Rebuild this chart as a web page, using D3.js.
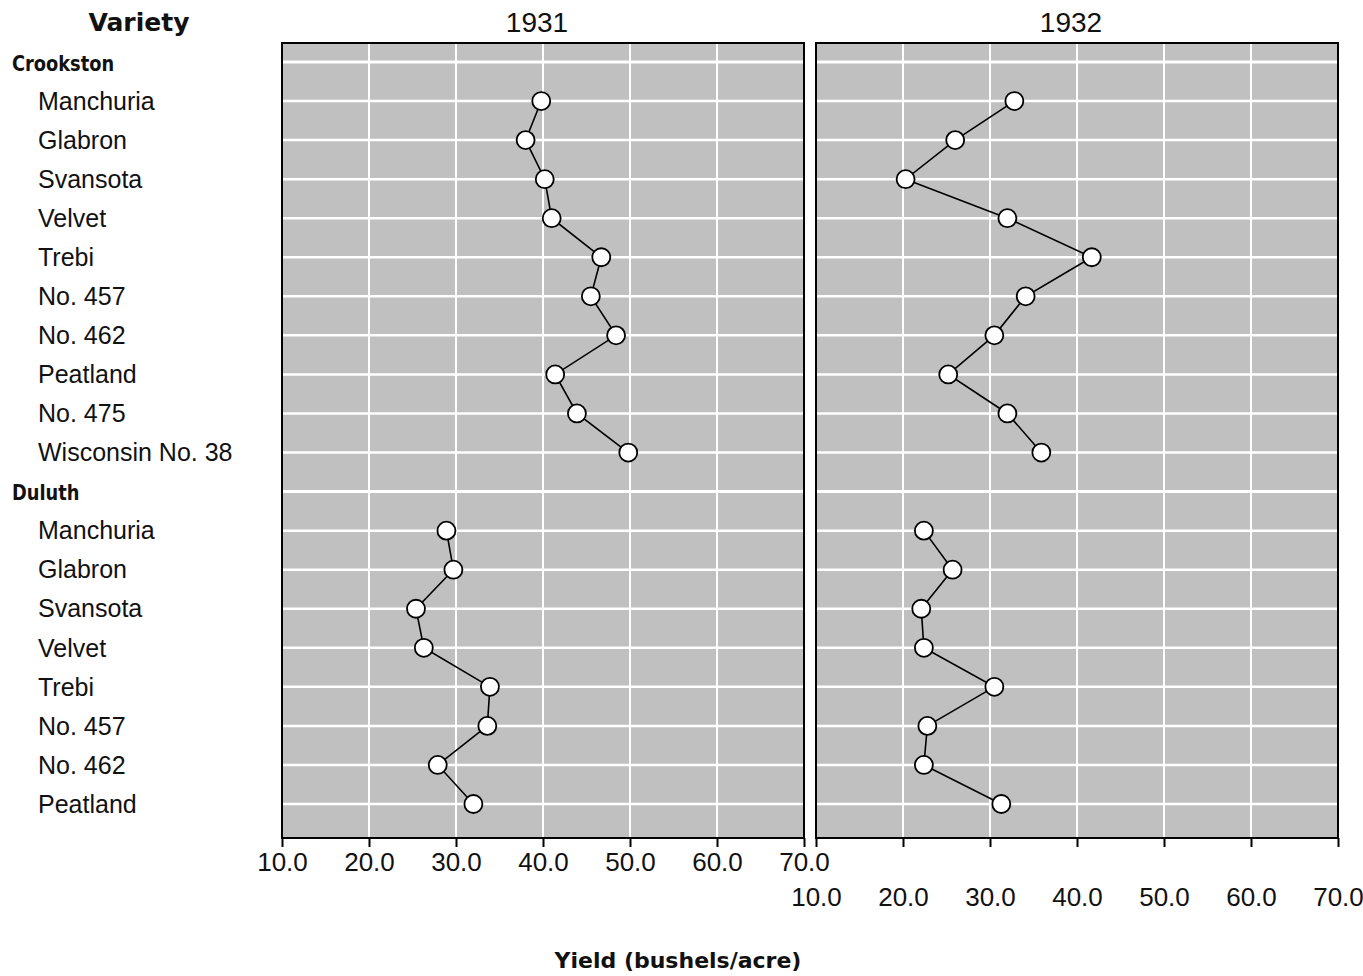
<!DOCTYPE html>
<html>
<head>
<meta charset="utf-8">
<script src="https://cdn.jsdelivr.net/npm/d3@7"></script>
<style>
  body { margin: 0; background: #fff; }
  text { font-family: "Liberation Sans", Arial, sans-serif; fill: #111; }
</style>
</head>
<body>
<div id="chart"></div>
<script>
// data
const years = ["1931", "1932"];
const sites = ["Crookston", "Duluth"];
const crookstonVarieties = ["Manchuria", "Glabron", "Svansota", "Velvet", "Trebi", "No. 457", "No. 462", "Peatland", "No. 475", "Wisconsin No. 38"];
const duluthVarieties = ["Manchuria", "Glabron", "Svansota", "Velvet", "Trebi", "No. 457", "No. 462", "Peatland"];
const crookston1931 = [39.8, 38.0, 40.2, 41.0, 46.7, 45.5, 48.4, 41.4, 43.9, 49.8];
const crookston1932 = [32.8, 26.0, 20.3, 32.0, 41.7, 34.1, 30.5, 25.2, 32.0, 35.9];
const duluth1931 = [28.9, 29.7, 25.4, 26.3, 33.9, 33.6, 27.9, 32.0];
const duluth1932 = [22.4, 25.7, 22.1, 22.4, 30.5, 22.8, 22.4, 31.3];
const xTicks = [10, 20, 30, 40, 50, 60, 70];

const width = 1363, height = 976;
const panels = [
    { year: years[0], x0: 282, x1: 804, labelY: 862, series: [crookston1931, duluth1931] },
    { year: years[1], x0: 816, x1: 1338, labelY: 897, series: [crookston1932, duluth1932] }
];
const plotTop = 43, plotBottom = 838;

// one row per site header and per variety
const rows = [];
sites.forEach((site, s) => {
    rows.push({ key: site, header: true });
    const vars = s === 0 ? crookstonVarieties : duluthVarieties;
    vars.forEach((v, i) => rows.push({ key: site + "|" + v, label: v, site: s, idx: i }));
});

const y = d3.scalePoint()
    .domain(rows.map(r => r.key))
    .range([62, 804]);

const svg = d3.select("#chart").append("svg")
    .attr("width", width)
    .attr("height", height);

// row labels
svg.append("text")
    .attr("x", 139).attr("y", 22).attr("dy", "0.35em")
    .attr("text-anchor", "middle")
    .style("font-family", "'DejaVu Sans', sans-serif")
    .style("font-weight", "bold").style("font-size", "25px")
    .text("Variety");

svg.selectAll(".row-label")
    .data(rows.filter(r => !r.header))
    .enter().append("text")
    .attr("class", "row-label")
    .attr("x", 38)
    .attr("y", r => y(r.key))
    .attr("dy", "0.35em")
    .style("font-size", "25px")
    .text(r => r.label);

svg.selectAll(".site-label")
    .data(rows.filter(r => r.header))
    .enter().append("text")
    .attr("class", "site-label")
    .attr("transform", r => `translate(12,${y(r.key) + 1}) scale(0.9,1)`)
    .attr("dy", "0.35em")
    .style("font-size", "22px")
    .style("font-weight", "bold")
    .style("font-family", "'DejaVu Sans Condensed', 'Liberation Sans Narrow', sans-serif")
    .text(r => r.key);

panels.forEach(p => {
    const x = d3.scaleLinear().domain([10, 70]).range([p.x0, p.x1]);
    const g = svg.append("g");

    g.append("text")
        .attr("x", (p.x0 + p.x1) / 2 - 6).attr("y", 22).attr("dy", "0.35em")
        .attr("text-anchor", "middle")
        .style("font-size", "28px")
        .text(p.year);

    g.append("rect")
        .attr("x", p.x0).attr("y", plotTop)
        .attr("width", p.x1 - p.x0).attr("height", plotBottom - plotTop)
        .attr("fill", "#c0c0c0");

    g.selectAll(".vgrid")
        .data(xTicks.slice(1, -1))
        .enter().append("line")
        .attr("x1", d => x(d)).attr("x2", d => x(d))
        .attr("y1", plotTop).attr("y2", plotBottom)
        .attr("stroke", "#fff").attr("stroke-width", 2);

    g.selectAll(".hgrid")
        .data(rows)
        .enter().append("line")
        .attr("x1", p.x0).attr("x2", p.x1)
        .attr("y1", r => y(r.key)).attr("y2", r => y(r.key))
        .attr("stroke", "#fff").attr("stroke-width", r => r.header ? 3 : 2.5);

    g.append("rect")
        .attr("x", p.x0).attr("y", plotTop)
        .attr("width", p.x1 - p.x0).attr("height", plotBottom - plotTop)
        .attr("fill", "none").attr("stroke", "#000").attr("stroke-width", 2);

    const axis = g.append("g")
        .attr("transform", `translate(0,${plotBottom})`)
        .call(d3.axisBottom(x).tickValues(xTicks).tickFormat(d3.format(".1f")).tickSize(9).tickSizeOuter(0));
    axis.select(".domain").remove();
    axis.selectAll(".tick line").attr("stroke", "#000").attr("stroke-width", 2);
    axis.selectAll(".tick text")
        .attr("y", p.labelY - plotBottom).attr("dy", "0.35em")
        .style("font-size", "26px")
        .style("font-family", "'Liberation Sans', Arial, sans-serif")
        .attr("fill", "#111");

    sites.forEach((site, s) => {
        const vars = s === 0 ? crookstonVarieties : duluthVarieties;
        const pts = p.series[s].map((v, i) => ({ v, key: site + "|" + vars[i] }));
        const line = d3.line().x(d => x(d.v)).y(d => y(d.key));
        g.append("path")
            .datum(pts)
            .attr("d", line)
            .attr("fill", "none").attr("stroke", "#000").attr("stroke-width", 1.6);
        g.selectAll(".pt-" + s)
            .data(pts)
            .enter().append("circle")
            .attr("cx", d => x(d.v)).attr("cy", d => y(d.key))
            .attr("r", 9)
            .attr("fill", "#fff").attr("stroke", "#000").attr("stroke-width", 1.8);
    });
});

svg.append("text")
    .attr("x", 678).attr("y", 960).attr("dy", "0.35em")
    .attr("text-anchor", "middle")
    .style("font-weight", "bold").style("font-size", "22px")
    .style("font-family", "'DejaVu Sans', sans-serif")
    .text("Yield (bushels/acre)");
</script>
</body>
</html>
